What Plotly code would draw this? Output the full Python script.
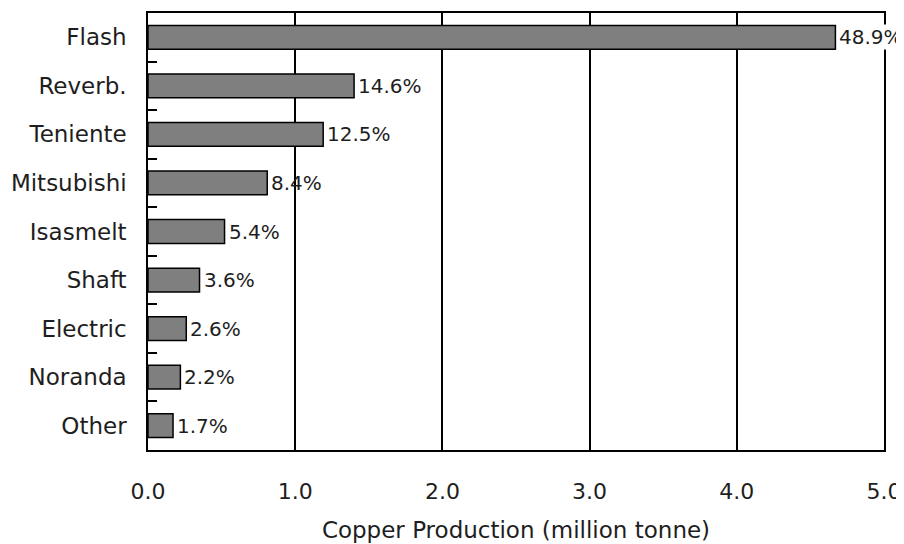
import plotly.graph_objects as go

categories = ["Flash", "Reverb.", "Teniente", "Mitsubishi", "Isasmelt", "Shaft", "Electric", "Noranda", "Other"]
production = [4.67, 1.40, 1.19, 0.81, 0.52, 0.35, 0.26, 0.22, 0.17]
share_labels = ["48.9%", "14.6%", "12.5%", "8.4%", "5.4%", "3.6%", "2.6%", "2.2%", "1.7%"]
x_ticks = [0, 1, 2, 3, 4, 5]

FONT = "DejaVu Sans"
TXT = "#1e1e1e"

fig = go.Figure()
fig.add_trace(go.Bar(
    x=production, y=categories, orientation="h",
    marker=dict(color="#7f7f7f", line=dict(color="black", width=1.5)),
    width=0.49, hoverinfo="skip",
))

for cat, val, lab in zip(categories, production, share_labels):
    fig.add_annotation(
        x=val, y=cat, text=lab, showarrow=False, xanchor="left", yanchor="middle",
        xshift=3, font=dict(family=FONT, size=20, color=TXT),
        bgcolor="white" if val > 4 else "rgba(0,0,0,0)", borderpad=0,
    )

fig.update_layout(
    width=896, height=536,
    margin=dict(l=140, r=20, t=5, b=94),
    paper_bgcolor="white", plot_bgcolor="white",
    showlegend=False,
    font=dict(family=FONT, size=22, color=TXT),
)
fig.update_xaxes(
    range=[0, 5], tickvals=x_ticks, tickformat=".1f",
    showgrid=True, gridcolor="black", gridwidth=1.5,
    showline=True, linecolor="black", linewidth=1.5, mirror=True,
    ticks="", ticklabelstandoff=21, zeroline=False, automargin=False,
    title=dict(text="Copper Production (million tonne)", standoff=19, font=dict(size=23)),
    tickfont=dict(size=22),
)
fig.update_yaxes(
    categoryorder="array", categoryarray=categories, autorange="reversed",
    showgrid=False, showline=True, linecolor="black", linewidth=1.5, mirror=True,
    ticks="inside", tickson="boundaries", ticklen=9, tickcolor="black", tickwidth=1.5,
    tickfont=dict(size=23), ticklabelstandoff=15, automargin=False,
)

fig.write_html("out.html")
